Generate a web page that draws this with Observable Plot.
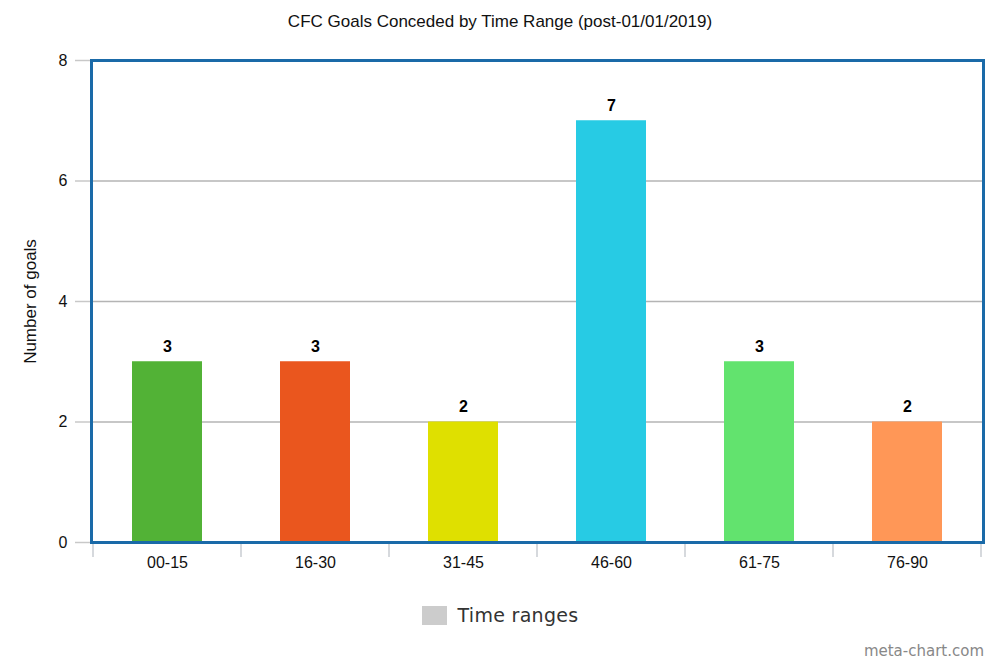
<!DOCTYPE html>
<html>
<head>
<meta charset="utf-8">
<script src="https://cdn.jsdelivr.net/npm/d3@7"></script>
<script src="https://cdn.jsdelivr.net/npm/@observablehq/plot@0.6"></script>
<style>
  html, body { margin: 0; padding: 0; background: #fff; }
  #wrap { width: 1000px; height: 666px; position: relative; overflow: hidden; }
  #title { height: 44px; font: 17px "Liberation Sans", Arial, sans-serif; line-height: 44px; text-align: center; color: #111; }
  #chart svg { display: block; }
  #legend { position: absolute; top: 600px; left: 0; width: 1000px; height: 30px; display: flex; justify-content: center; align-items: center; }
  #legend .sw { width: 25px; height: 19px; background: #cccccc; margin-right: 11px; }
  #legend .lb { font: 19px "DejaVu Sans", sans-serif; color: #333; letter-spacing: 0.3px; }
  #credit { position: absolute; top: 642px; right: 16px; font: 15px "DejaVu Sans", sans-serif; color: #888; }
</style>
</head>
<body>
<div id="wrap">
  <div id="title">CFC Goals Conceded by Time Range (post-01/01/2019)</div>
  <div id="chart"></div>
  <div id="legend"><div class="sw"></div><div class="lb">Time ranges</div></div>
  <div id="credit">meta-chart.com</div>
</div>
<script>
const categories = ["00-15", "16-30", "31-45", "46-60", "61-75", "76-90"];
const goals = [3, 3, 2, 7, 3, 2];
const barColors = ["#52b236", "#ea561e", "#dfe000", "#27cbe4", "#62e36e", "#ff9757"];
const yTicks = [0, 2, 4, 6, 8];
const yLabel = "Number of goals";

const data = categories.map((c, i) => ({ range: c, goals: goals[i] }));

const boundaryTicks = (index, scales, values, dims) => {
  const g = d3.create("svg:g");
  const x = scales.x;
  const step = x.step();
  const y0 = dims.height - dims.marginBottom;
  const xs = categories.map(c => x(c) - (step - x.bandwidth()) / 2);
  xs.push(xs[xs.length - 1] + step);
  for (const px of xs) {
    g.append("line")
      .attr("x1", px).attr("x2", px)
      .attr("y1", y0).attr("y2", y0 + 15)
      .attr("stroke", "#c8ccd2").attr("stroke-width", 1.5);
  }
  return g.node();
};

const chart = Plot.plot({
  width: 1000,
  height: 556,
  marginTop: 16,
  marginBottom: 58,
  marginLeft: 91,
  marginRight: 17,
  style: { fontFamily: "'Liberation Sans', Arial, sans-serif", fontSize: "16px", color: "#111", background: "#fff" },
  x: { domain: categories, paddingInner: 0.53, paddingOuter: 0.265, label: null },
  y: { domain: [0, 8], ticks: yTicks, label: null },
  color: { domain: categories, range: barColors },
  marks: [
    Plot.gridY(yTicks.filter(t => t > 0 && t < 8), { stroke: "#b4b4b4", strokeOpacity: 1, strokeWidth: 1.5 }),
    Plot.barY(data, { x: "range", y: "goals", fill: "range" }),
    Plot.text(data, { x: "range", y: "goals", text: d => String(d.goals), lineAnchor: "bottom", dy: -10, fontWeight: "bold", fontSize: 16, fill: "#000" }),
    Plot.axisY(yTicks, { tickSize: 16, tickPadding: 8, tickFormat: "d", stroke: "#c8c8c8", strokeWidth: 1.5, fill: "#111", fontSize: 16, label: null }),
    Plot.axisX({ tickSize: 0, tickPadding: 14, fill: "#111", fontSize: 16, label: null }),
    Plot.text([yLabel], { frameAnchor: "left", rotate: -90, textAnchor: "middle", dx: -61, fontSize: 17, fill: "#111" }),
    boundaryTicks,
    Plot.frame({ stroke: "#1a6aa8", strokeWidth: 3 })
  ]
});
document.getElementById("chart").appendChild(chart);
</script>
</body>
</html>
